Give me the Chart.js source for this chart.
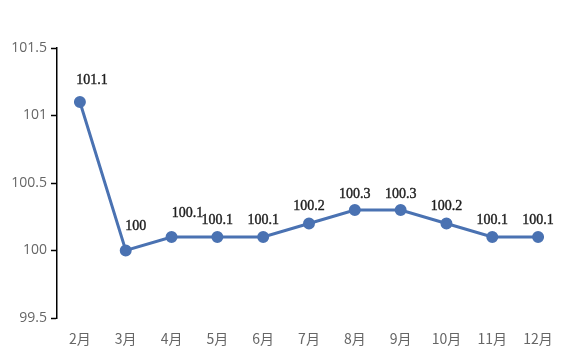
<!DOCTYPE html>
<html>
<head>
<meta charset="utf-8">
<script src="https://cdn.jsdelivr.net/npm/chart.js@4/dist/chart.umd.min.js"></script>
<style>
html,body{margin:0;padding:0;background:#fff;}
#wrap{width:577px;height:351px;position:relative;}
</style>
</head>
<body>
<div id="wrap"><canvas id="c" width="577" height="351"></canvas></div>
<script>
const categories = ["2月","3月","4月","5月","6月","7月","8月","9月","10月","11月","12月"];
const values = [101.1, 100, 100.1, 100.1, 100.1, 100.2, 100.3, 100.3, 100.2, 100.1, 100.1];
const yTicks = [99.5, 100, 100.5, 101, 101.5];

// label placement nudges (style only): [dx, dy above point]
const labelNudge = [[12,22],[10,24],[16,24],[0,17],[0,17],[0,17],[0,16],[0,16],[0,17],[0,17],[0,17]];

const dataLabels = {
  id: 'dataLabels',
  afterDatasetsDraw(chart) {
    const ctx = chart.ctx;
    const meta = chart.getDatasetMeta(0);
    ctx.save();
    ctx.font = '14px "Liberation Serif", "Times New Roman", serif';
    ctx.fillStyle = '#1f1f1f';
    ctx.strokeStyle = '#1f1f1f';
    ctx.lineWidth = 0.4;
    ctx.textAlign = 'center';
    ctx.textBaseline = 'middle';
    meta.data.forEach((pt, i) => {
      const n = labelNudge[i] || [0,17];
      ctx.fillText(String(values[i]), pt.x + n[0], pt.y - n[1]);
      ctx.strokeText(String(values[i]), pt.x + n[0], pt.y - n[1]);
    });
    ctx.restore();
  }
};

new Chart(document.getElementById('c'), {
  type: 'line',
  data: {
    labels: categories,
    datasets: [{
      data: values,
      borderColor: '#4a72b2',
      backgroundColor: '#4a72b2',
      borderWidth: 3,
      pointRadius: 4.5,
      pointHoverRadius: 4.5,
      pointBackgroundColor: '#4a72b2',
      pointBorderColor: '#4a72b2',
      tension: 0,
      fill: false
    }]
  },
  options: {
    responsive: false,
    animation: false,
    devicePixelRatio: 1,
    layout: { padding: { top: 48, right: 16, left: 0, bottom: 0 } },
    plugins: { legend: { display: false }, tooltip: { enabled: false } },
    scales: {
      x: {
        offset: true,
        grid: { display: false },
        border: { display: false },
        ticks: {
          color: '#666666',
          font: { family: '"Noto Sans CJK SC", "Noto Sans", sans-serif', size: 14 },
          padding: 4,
          maxRotation: 0,
          autoSkip: false
        },
        afterFit(s) { s.height = 33; }
      },
      y: {
        min: 99.5,
        max: 101.5,
        afterBuildTicks(s) { s.ticks = yTicks.map(v => ({ value: v })); },
        grid: { display: true, drawOnChartArea: false, drawTicks: true, tickLength: 6, color: '#000', tickColor: '#000', tickWidth: 1.5 },
        border: { display: true, color: '#000', width: 1.5 },
        ticks: {
          color: '#666666',
          font: { family: '"Open Sans", "Liberation Sans", sans-serif', size: 14 },
          padding: 4,
          callback: v => String(v)
        },
        afterFit(s) { s.width = 57; }
      }
    }
  },
  plugins: [dataLabels]
});
</script>
</body>
</html>
